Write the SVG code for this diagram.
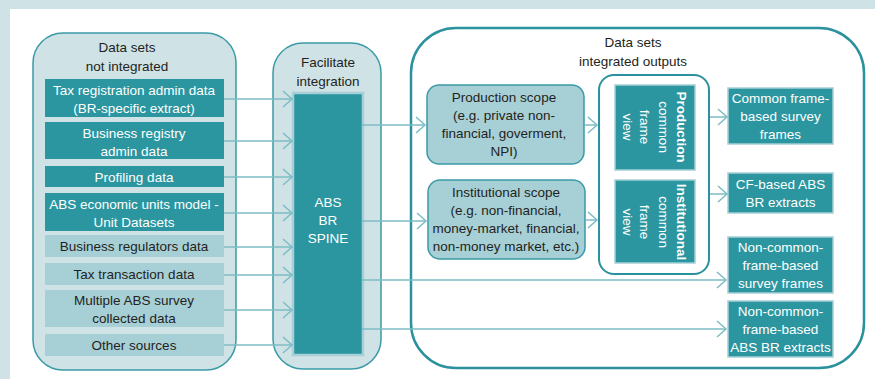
<svg xmlns="http://www.w3.org/2000/svg" width="875" height="379" viewBox="0 0 875 379">
<defs>
<style>
text{font-family:"Liberation Sans",Arial,sans-serif;font-size:13.5px;text-anchor:middle}
.w{fill:#ffffff}
.k{fill:#231f20}
.b{font-weight:bold}
.cont{fill:#cfe2e6;stroke:#3a9ba6;stroke-width:1.5}
.dark{fill:#2b96a0}
.light{fill:#a7cfd6}
.scope{fill:#a7cfd6;stroke:#3a9ba6;stroke-width:1.5}
.view{fill:#2b96a0;stroke:#a7cfd6;stroke-width:1.5}
.out{fill:#2b96a0;stroke:#a7cfd6;stroke-width:1.5}
.arr{fill:none;stroke:#7dbcc5;stroke-width:1.5;marker-end:url(#chev)}
</style>
<marker id="chev" markerUnits="userSpaceOnUse" markerWidth="20" markerHeight="20" refX="0" refY="0" orient="auto" overflow="visible">
<path d="M-9,-8 L0,0 L-9,8" fill="none" stroke="#7dbcc5" stroke-width="1.5"/>
</marker>
</defs>
<rect x="0" y="0" width="875" height="379" fill="#cfe2e6"/>
<rect x="10" y="9" width="865" height="370" fill="#ffffff"/>

<g id="not-integrated">
<rect class="cont" x="33" y="33" width="203" height="337" rx="30"/>
<text class="k" x="127" y="52">Data sets</text>
<text class="k" x="127" y="71">not integrated</text>
</g>
<g id="item-tax-reg">
<rect class="dark" x="45" y="79" width="179" height="38"/>
<text class="w" x="134" y="94.5">Tax registration admin data</text>
<text class="w" x="134" y="112.5">(BR-specific extract)</text>
</g>
<g id="item-business-registry">
<rect class="dark" x="45" y="122" width="179" height="37"/>
<text class="w" x="134" y="137.5">Business registry</text>
<text class="w" x="134" y="155.5">admin data</text>
</g>
<g id="item-profiling">
<rect class="dark" x="45" y="166" width="179" height="21"/>
<text class="w" x="134" y="181.5">Profiling data</text>
</g>
<g id="item-abs-units">
<rect class="dark" x="45" y="193" width="179" height="38"/>
<text class="w" x="134" y="208.5">ABS economic units model -</text>
<text class="w" x="134" y="226.5">Unit Datasets</text>
</g>
<g id="item-regulators">
<rect class="light" x="45" y="235" width="179" height="22"/>
<text class="k" x="134" y="250.5">Business regulators data</text>
</g>
<g id="item-tax-trans">
<rect class="light" x="45" y="263" width="179" height="22"/>
<text class="k" x="134" y="278.5">Tax transaction data</text>
</g>
<g id="item-survey">
<rect class="light" x="45" y="290" width="179" height="37"/>
<text class="k" x="134" y="305">Multiple ABS survey</text>
<text class="k" x="134" y="323">collected data</text>
</g>
<g id="item-other">
<rect class="light" x="45" y="334" width="179" height="22"/>
<text class="k" x="134" y="349.5">Other sources</text>
</g>

<g id="facilitate">
<rect class="cont" x="273" y="43" width="108" height="326" rx="30"/>
<text class="k" x="328" y="67">Facilitate</text>
<text class="k" x="328" y="86">integration</text>
</g>
<g id="spine">
<rect x="293" y="93" width="70" height="262" fill="#2b96a0" stroke="#a7cfd6" stroke-width="2.5"/>
<text class="w" x="328" y="207">ABS</text>
<text class="w" x="328" y="225">BR</text>
<text class="w" x="328" y="243">SPINE</text>
</g>

<g id="integrated-outputs">
<rect x="411" y="28" width="453" height="340" rx="45" fill="#ffffff" stroke="#2b929d" stroke-width="2.5"/>
<text class="k" x="633" y="47">Data sets</text>
<text class="k" x="633" y="66">integrated outputs</text>
</g>
<g id="production-scope">
<rect class="scope" x="427" y="85" width="157" height="79" rx="12"/>
<text class="k" x="504" y="102">Production scope</text>
<text class="k" x="504" y="120">(e.g. private non-</text>
<text class="k" x="504" y="138">financial, goverment,</text>
<text class="k" x="504" y="156">NPI)</text>
</g>
<g id="institutional-scope">
<rect class="scope" x="428" y="180" width="157" height="79" rx="12"/>
<text class="k" x="506" y="197">Institutional scope</text>
<text class="k" x="506" y="215">(e.g. non-financial,</text>
<text class="k" x="506" y="233">money-market, financial,</text>
<text class="k" x="506" y="251">non-money market, etc.)</text>
</g>
<g id="common-frame-views">
<rect x="599" y="75" width="110" height="199" rx="15" fill="#ffffff" stroke="#2b929d" stroke-width="2"/>
</g>
<g id="production-cfv">
<rect class="view" x="615" y="85" width="80" height="85"/>
<g transform="translate(655,127) rotate(90)">
<text class="w b" x="0" y="-21.5">Production</text>
<text class="w" x="0" y="-3.5">common</text>
<text class="w" x="0" y="15">frame</text>
<text class="w" x="0" y="32.5">view</text>
</g>
</g>
<g id="institutional-cfv">
<rect class="view" x="615" y="180" width="80" height="83"/>
<g transform="translate(655,222) rotate(90)">
<text class="w b" x="0" y="-21.5">Institutional</text>
<text class="w" x="0" y="-3.5">common</text>
<text class="w" x="0" y="15">frame</text>
<text class="w" x="0" y="32.5">view</text>
</g>
</g>
<g id="out-cf-survey">
<rect class="out" x="728" y="88" width="105" height="56"/>
<text class="w" x="780.5" y="103">Common frame-</text>
<text class="w" x="780.5" y="121">based survey</text>
<text class="w" x="780.5" y="139">frames</text>
</g>
<g id="out-cf-extracts">
<rect class="out" x="728" y="173" width="105" height="40"/>
<text class="w" x="780.5" y="188.5">CF-based ABS</text>
<text class="w" x="780.5" y="206.5">BR extracts</text>
</g>
<g id="out-ncf-survey">
<rect class="out" x="728" y="237" width="105" height="56"/>
<text class="w" x="780.5" y="252">Non-common-</text>
<text class="w" x="780.5" y="270">frame-based</text>
<text class="w" x="780.5" y="288">survey frames</text>
</g>
<g id="out-ncf-extracts">
<rect class="out" x="728" y="301" width="105" height="56"/>
<text class="w" x="780.5" y="316">Non-common-</text>
<text class="w" x="780.5" y="334">frame-based</text>
<text class="w" x="780.5" y="352">ABS BR extracts</text>
</g>

<g id="connectors">
<line class="arr" x1="224" y1="99" x2="292" y2="99"/>
<line class="arr" x1="224" y1="141" x2="292" y2="141"/>
<line class="arr" x1="224" y1="177" x2="292" y2="177"/>
<line class="arr" x1="224" y1="213" x2="292" y2="213"/>
<line class="arr" x1="224" y1="247" x2="292" y2="247"/>
<line class="arr" x1="224" y1="275" x2="292" y2="275"/>
<line class="arr" x1="224" y1="310" x2="292" y2="310"/>
<line class="arr" x1="224" y1="345" x2="292" y2="345"/>
<line class="arr" x1="362" y1="125" x2="425" y2="125"/>
<line class="arr" x1="362" y1="221" x2="426" y2="221"/>
<line class="arr" x1="585" y1="125" x2="597" y2="125"/>
<line class="arr" x1="586" y1="220" x2="597" y2="220"/>
<line class="arr" x1="710" y1="117" x2="727" y2="117"/>
<line class="arr" x1="710" y1="194" x2="727" y2="194"/>
<line class="arr" x1="362" y1="280" x2="726" y2="280"/>
<line class="arr" x1="362" y1="329" x2="726" y2="329"/>
</g>
</svg>
